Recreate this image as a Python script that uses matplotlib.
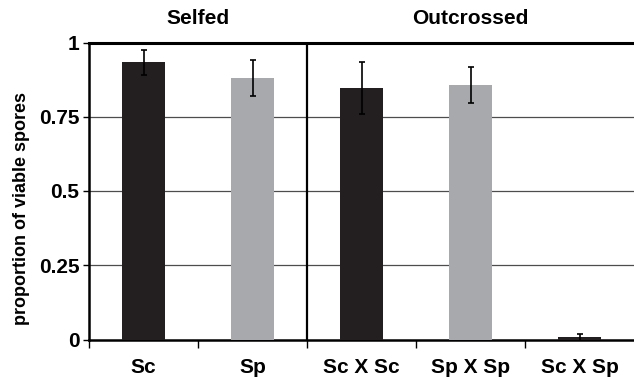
import matplotlib
matplotlib.use("Agg")
import matplotlib.pyplot as plt
import numpy as np

categories = ["Sc", "Sp", "Sc X Sc", "Sp X Sp", "Sc X Sp"]
viability = [0.933, 0.880, 0.846, 0.857, 0.007]
errors = [0.041, 0.061, 0.088, 0.062, 0.011]
bar_colors = ["#231f20", "#a7a9ac", "#231f20", "#a7a9ac", "#231f20"]
y_ticks = [0, 0.25, 0.5, 0.75, 1]
y_tick_labels = ["0", "0.25", "0.5", "0.75", "1"]
groups = [("Selfed", 0, 2), ("Outcrossed", 2, 5)]

plt.rcParams["font.family"] = ["Liberation Sans", "DejaVu Sans"]
plt.rcParams["font.weight"] = "bold"

fig = plt.figure(figsize=(6.34, 3.8), dpi=100)
ax = fig.add_axes([89 / 634, 40.5 / 380, 545 / 634, 297 / 380])

x = np.arange(len(categories))
ax.bar(x, viability, width=0.4, color=bar_colors, zorder=3)
ax.errorbar(x, viability, yerr=errors, fmt="none", ecolor="black",
            elinewidth=1.2, capsize=2.0, capthick=1.2, zorder=4)

ax.set_xlim(-0.5, len(categories) - 0.5)
ax.set_ylim(0, 1)

# gridlines, darker line at the top
for t in y_ticks[1:-1]:
    ax.axhline(t, color="#4d4d4d", lw=0.9, zorder=1)
ax.axhline(1, color="black", lw=2.2, zorder=2, clip_on=False)
# divider between selfed and outcrossed
ax.axvline(1.5, color="black", lw=1.6, zorder=2)

for side in ("top", "right"):
    ax.spines[side].set_visible(False)
ax.spines["left"].set_linewidth(1.8)
ax.spines["bottom"].set_linewidth(1.8)

ax.set_yticks(y_ticks)
ax.set_yticklabels(y_tick_labels, fontsize=15, fontweight="bold")
ax.tick_params(axis="y", length=4, width=1, pad=3)

ax.set_xticks(x)
ax.set_xticklabels(categories, fontsize=15, fontweight="bold")
ax.set_xticks(np.arange(len(categories)) + 0.5 - 1, minor=True)
ax.tick_params(axis="x", which="major", length=0, pad=13)
ax.tick_params(axis="x", which="minor", length=6, width=1)

ax.set_ylabel("proportion of viable spores", fontsize=13, fontweight="bold")
ax.yaxis.set_label_coords(-0.108, 0.44)

for name, start, end in groups:
    ax.text((start + end - 1) / 2, 1.08, name, ha="center", va="center",
            fontsize=15, fontweight="bold", transform=ax.get_xaxis_transform())

fig.savefig("out.png", dpi=100)
